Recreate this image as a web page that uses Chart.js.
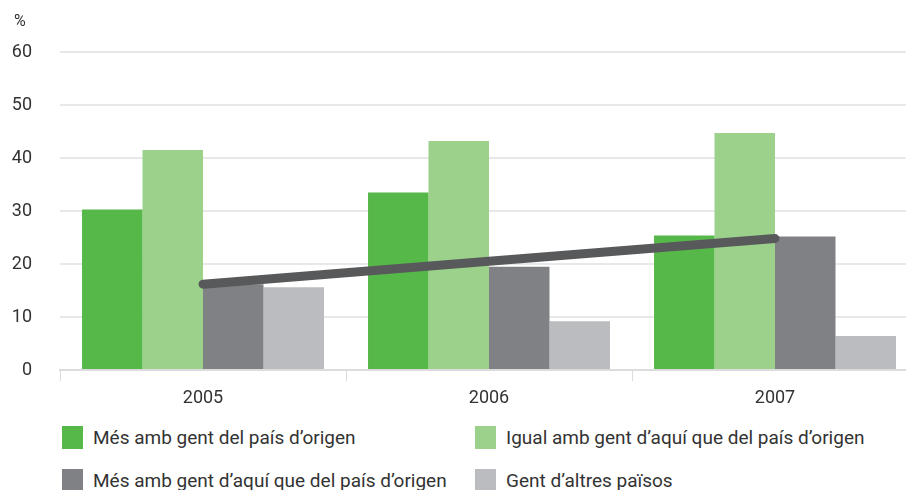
<!DOCTYPE html>
<html>
<head>
<meta charset="utf-8">
<script src="https://cdn.jsdelivr.net/npm/chart.js@4.4.0/dist/chart.umd.min.js"></script>
<style>
  html, body { margin: 0; padding: 0; background: #fff; overflow: hidden; width: 906px; height: 490px; }
  #wrap { position: relative; width: 906px; height: 490px; }
  #chart { position: absolute; left: 0; top: 0; }
  .legend { position: absolute; left: 0; top: 426px; width: 906px; font-family: Roboto, sans-serif; font-size: 19px; color: #333; }
  .legend .item { position: absolute; display: flex; align-items: center; white-space: nowrap; }
  .legend .box { width: 21px; height: 23px; margin-right: 10px; }
</style>
</head>
<body>
<div id="wrap">
  <canvas id="chart" width="918" height="410"></canvas>
  <div class="legend" id="legend"></div>
</div>
<script>
// years on the x axis
const years = ['2005', '2006', '2007'];

// share of respondents (%) per answer
const masOrigen = [30.3, 33.5, 25.4];
const igualAqui = [41.5, 43.2, 44.7];
const masAqui = [16.2, 19.5, 25.2];
const altresPaisos = [15.6, 9.2, 6.4];

// trend line drawn over the bars
const tendencia = [16.2, 20.5, 24.8];

const yTicks = [0, 10, 20, 30, 40, 50, 60];

const seriesLabels = [
  'Més amb gent del país d\u2019origen',
  'Igual amb gent d\u2019aquí que del país d\u2019origen',
  'Més amb gent d\u2019aquí que del país d\u2019origen',
  'Gent d\u2019altres països'
];
const seriesColors = ['#57b84a', '#9bd18a', '#808184', '#bbbcbf'];
const seriesData = [masOrigen, igualAqui, masAqui, altresPaisos];

const font = 'Roboto, sans-serif';

const percentLabel = {
  id: 'percentLabel',
  afterDraw(chart) {
    const ctx = chart.ctx;
    ctx.save();
    ctx.font = '16px ' + font;
    ctx.fillStyle = '#333';
    ctx.textAlign = 'left';
    ctx.textBaseline = 'middle';
    ctx.fillText('%', 14, chart.chartArea.top - 30);
    ctx.restore();
  }
};

const barSets = seriesData.map((d, i) => ({
  type: 'bar',
  label: seriesLabels[i],
  data: d,
  backgroundColor: seriesColors[i],
  borderWidth: 0,
  categoryPercentage: 0.846,
  barPercentage: 1,
  order: 2
}));

new Chart(document.getElementById('chart'), {
  data: {
    labels: years,
    datasets: [
      ...barSets,
      {
        type: 'line',
        label: 'tendència',
        data: tendencia,
        borderColor: '#58595b',
        borderWidth: 9,
        borderCapStyle: 'round',
        pointRadius: 0,
        tension: 0,
        order: 1
      }
    ]
  },
  options: {
    responsive: false,
    animation: false,
    layout: { padding: { top: 52, right: 0, left: 0, bottom: 0 } },
    plugins: { legend: { display: false }, tooltip: { enabled: false } },
    scales: {
      x: {
        grid: { offset: true, drawOnChartArea: false, tickLength: 11, color: '#dcdcdc', lineWidth: 1 },
        border: { color: '#dcdcdc', width: 2 },
        ticks: { color: '#333', font: { family: font, size: 18 }, padding: 7 },
        afterFit(s) { s.height = 40; }
      },
      y: {
        min: 0,
        max: 60,
        afterBuildTicks(s) { s.ticks = yTicks.map(v => ({ value: v })); },
        grid: { drawTicks: false, color: '#e8e8e8', lineWidth: 2 },
        border: { display: false },
        ticks: { color: '#333', font: { family: font, size: 18 }, padding: 28 },
        afterFit(s) { s.width = 60; }
      }
    }
  },
  plugins: [percentLabel]
});

// two-column legend under the chart
const legend = document.getElementById('legend');
const spots = [[62, 0], [475, 0], [62, 43], [475, 43]];
seriesLabels.forEach((lab, i) => {
  const it = document.createElement('div');
  it.className = 'item';
  it.style.left = spots[i][0] + 'px';
  it.style.top = spots[i][1] + 'px';
  const b = document.createElement('span');
  b.className = 'box';
  b.style.background = seriesColors[i];
  const t = document.createElement('span');
  t.textContent = lab;
  it.appendChild(b);
  it.appendChild(t);
  legend.appendChild(it);
});
</script>
</body>
</html>
